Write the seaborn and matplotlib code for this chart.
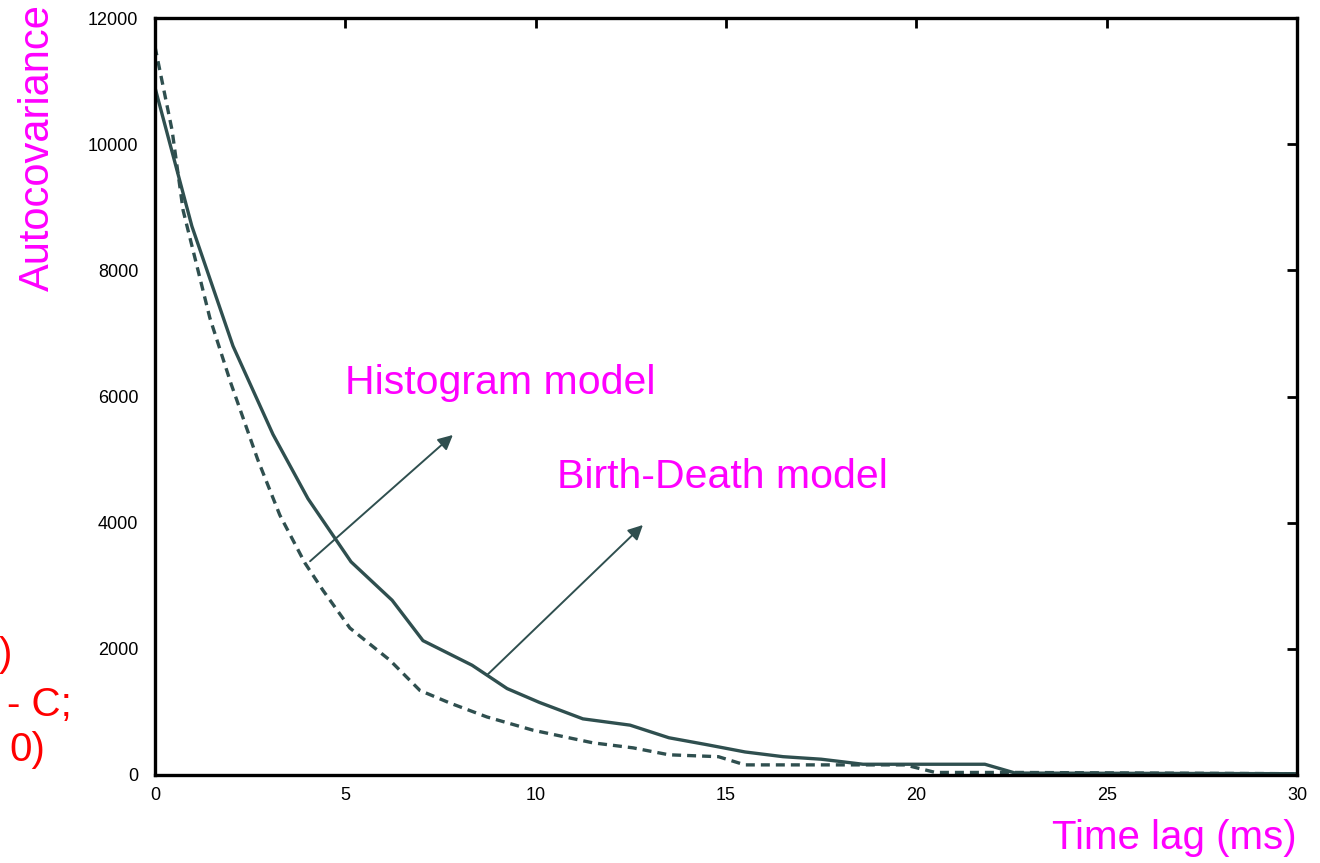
import numpy as np
import pandas as pd
import matplotlib
matplotlib.use('Agg')
import matplotlib.pyplot as plt
import seaborn as sns

# values
hist_lag = [0, 0.97, 2.05, 3.1, 4.02, 5.15, 6.23, 7.04, 8.33, 9.25, 10.1, 11.24,
            12.48, 13.5, 14.5, 15.5, 16.5, 17.5, 18.6, 21.8, 22.6, 30]
hist_cov = [10900, 8700, 6800, 5400, 4380, 3380, 2770, 2130, 1740, 1370, 1150, 890,
            790, 590, 480, 365, 290, 250, 170, 170, 30, 20]

bd_lag = [0, 0.45, 0.74, 1.44, 2.0, 2.7, 3.28, 3.94, 4.41, 5.12, 6.17, 6.96, 7.75,
          8.72, 9.93, 11.5, 12.56, 13.5, 14.8, 15.5, 19.7, 20.5, 22.6, 30]
bd_cov = [11550, 10220, 8950, 7250, 6200, 5000, 4120, 3360, 2930, 2330, 1820, 1340, 1140,
          920, 710, 510, 430, 320, 290, 160, 160, 40, 40, 20]

x_ticks = [0, 5, 10, 15, 20, 25, 30]
y_ticks = [0, 2000, 4000, 6000, 8000, 10000, 12000]

sns.set_style('white')
plt.rcParams['font.family'] = ['Liberation Sans', 'DejaVu Sans']

line_col = '#2F4F4F'
pink = '#FF00FF'

fig = plt.figure(figsize=(13.2, 8.63), dpi=100)
ax = fig.add_axes([0.1174, 0.102, 0.8652, 0.877])

hist_df = pd.DataFrame({'lag': hist_lag, 'cov': hist_cov})
bd_df = pd.DataFrame({'lag': bd_lag, 'cov': bd_cov})
sns.lineplot(data=hist_df, x='lag', y='cov', ax=ax, color=line_col, lw=2.4)
sns.lineplot(data=bd_df, x='lag', y='cov', ax=ax, color=line_col, lw=2.4,
             linestyle=(0, (2.7, 1.8)))

ax.set_xlim(0, 30)
ax.set_ylim(0, 12000)
ax.set_xticks(x_ticks)
ax.set_yticks(y_ticks)
ax.set_xlabel('')
ax.set_ylabel('')
ax.tick_params(direction='in', length=7, width=2, top=True, right=True,
               labelsize=13, colors='black')
ax.tick_params(axis='y', pad=12)
ax.tick_params(axis='x', pad=9)
for sp in ax.spines.values():
    sp.set_linewidth(2.4)
    sp.set_color('black')

# annotations
ax.annotate('', xy=(7.88, 5420), xytext=(4.02, 3360),
            arrowprops=dict(arrowstyle='-|>', color=line_col, lw=1.4, mutation_scale=22))
ax.annotate('', xy=(12.87, 3994), xytext=(8.67, 1553),
            arrowprops=dict(arrowstyle='-|>', color=line_col, lw=1.4, mutation_scale=22))
ax.text(9.06, 6212, 'Histogram model', color=pink, fontsize=29.5, ha='center', va='center')
ax.text(14.9, 4723, 'Birth-Death model', color=pink, fontsize=29.5, ha='center', va='center')

fig.text(38 / 1320, 1 - 148 / 863, 'Autocovariance', color=pink, fontsize=30,
         rotation=90, ha='center', va='center')
fig.text(1297 / 1320, 1 - 838 / 863, 'Time lag (ms)', color=pink, fontsize=29,
         ha='right', va='center')

# red text fragments at the left edge
fig.text(12 / 1320, 1 - 655 / 863, ')', color='red', fontsize=29, ha='right', va='center')
fig.text(72 / 1320, 1 - 705 / 863, '- C;', color='red', fontsize=29, ha='right', va='center')
fig.text(45 / 1320, 1 - 750 / 863, '0)', color='red', fontsize=29, ha='right', va='center')

fig.savefig('out.png', dpi=100)
